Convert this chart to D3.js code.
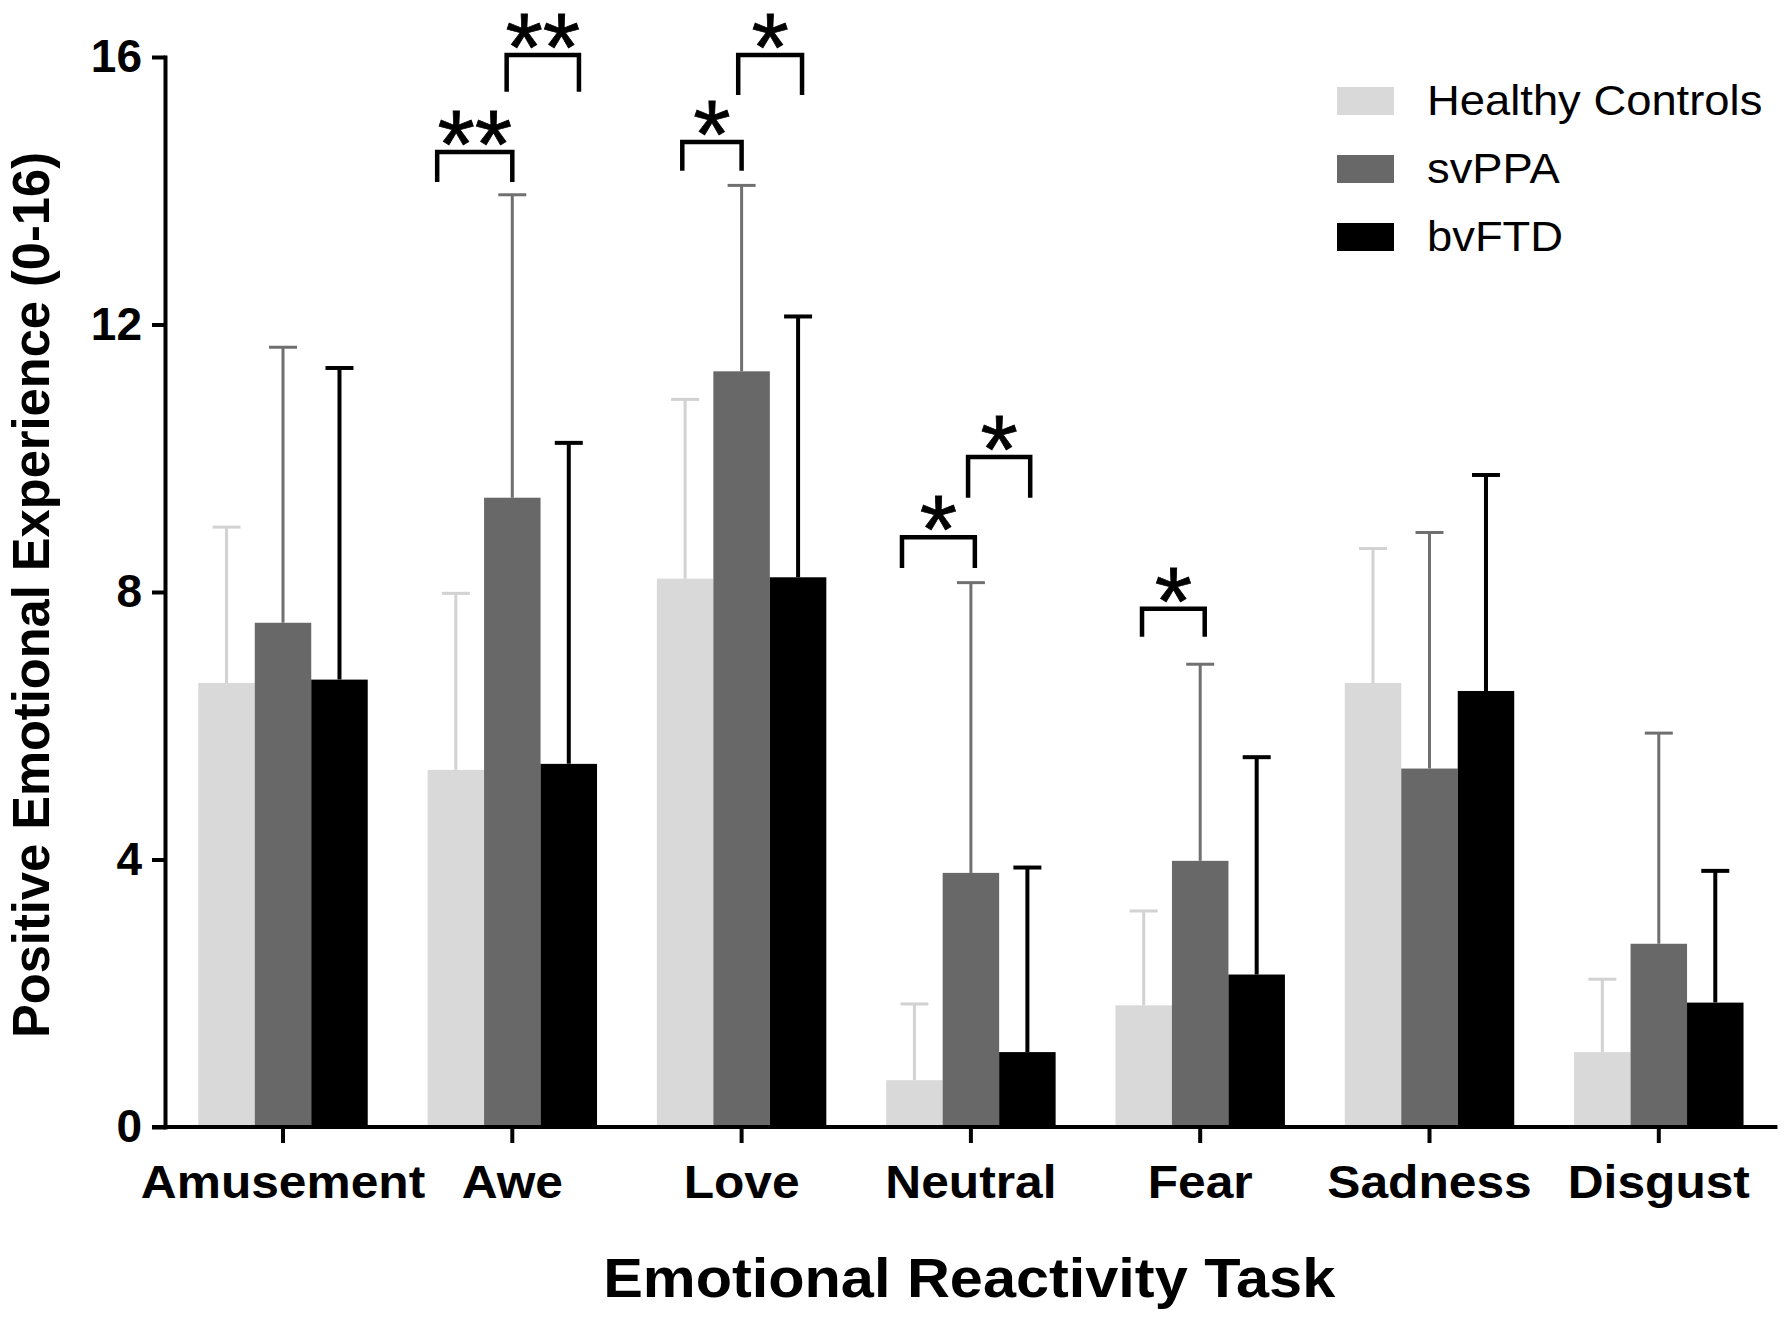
<!DOCTYPE html>
<html><head><meta charset="utf-8">
<script src="https://cdn.jsdelivr.net/npm/d3@7"></script>
<style>
body{margin:0;background:#fff}
svg{display:block}
text{font-family:"Liberation Sans",Arial,sans-serif}
</style>
</head><body>
<svg id="c" width="1787" height="1322"></svg>
<script>
// ---- data ----
const categories = ["Amusement","Awe","Love","Neutral","Fear","Sadness","Disgust"];
const seriesNames = ["Healthy Controls","svPPA","bvFTD"];
const hcMean  = [6.64, 5.34, 8.20, 0.70, 1.82, 6.64, 1.12];
const hcTop   = [8.97, 7.98, 10.88, 1.84, 3.23, 8.65, 2.21];
const svMean  = [7.54, 9.41, 11.30, 3.80, 3.98, 5.36, 2.74];
const svTop   = [11.66, 13.94, 14.08, 8.14, 6.92, 8.89, 5.89];
const bvMean  = [6.69, 5.43, 8.22, 1.12, 2.28, 6.52, 1.86];
const bvTop   = [11.35, 10.23, 12.12, 3.88, 5.53, 9.75, 3.83];
const yTicks  = [0, 4, 8, 12, 16];
// significance brackets (x ends in series-index units, levels in data units)
const sigCategory = ["Awe","Awe","Love","Love","Neutral","Neutral","Fear"];
const sigFrom     = [-0.33, 0.90, -0.05, 0.94, -0.22, 0.95, -0.03];
const sigTo       = [1.00, 2.18, 1.00, 2.07, 1.07, 2.05, 1.08];
const sigLevel    = [14.58, 16.03, 14.73, 16.03, 8.82, 10.02, 7.75];
const sigLegEnd   = [14.13, 15.48, 14.30, 15.43, 8.36, 9.41, 7.33];
const sigLabel    = ["**","**","*","*","*","*","*"];

const means = [hcMean, svMean, bvMean];
const tops = [hcTop, svTop, bvTop];
const fills = ["#d9d9d9", "#686868", "#000000"];
const errColors = ["#d2d2d2", "#707070", "#000000"];
const errWidths = [3, 3, 4];

const svg = d3.select("#c");

const x = d3.scaleBand().domain(categories).range([168.35, 1773.45])
  .paddingInner(0.261).paddingOuter(0.1305);
const xs = d3.scaleBand().domain([0,1,2]).range([0, x.bandwidth()]);
const y = d3.scaleLinear().domain([0,16]).range([1127, 57]);
const axisX = 165;

function stretch(sel, k){
  sel.each(function(){
    const w = this.getComputedTextLength();
    d3.select(this).attr("textLength", w*k).attr("lengthAdjust","spacingAndGlyphs");
  });
}

// bars
const rows = categories.map((c,i)=>({c, i}));
seriesNames.forEach((s, si)=>{
  svg.append("g").selectAll("rect").data(rows).join("rect")
    .attr("x", d=>x(d.c)+xs(si))
    .attr("width", xs.bandwidth())
    .attr("y", d=>y(means[si][d.i]))
    .attr("height", d=>y(0)-y(means[si][d.i]))
    .attr("fill", fills[si]);
});

// error bars (upper only)
seriesNames.forEach((s, si)=>{
  const g = svg.append("g").attr("stroke", errColors[si]).attr("stroke-width", errWidths[si]);
  const cx = d=>x(d.c)+xs(si)+xs.bandwidth()/2;
  g.selectAll("line.v").data(rows).join("line").attr("class","v")
    .attr("x1", cx).attr("x2", cx)
    .attr("y1", d=>y(means[si][d.i])).attr("y2", d=>y(tops[si][d.i]));
  g.selectAll("line.h").data(rows).join("line").attr("class","h")
    .attr("x1", d=>cx(d)-14).attr("x2", d=>cx(d)+14)
    .attr("y1", d=>y(tops[si][d.i])).attr("y2", d=>y(tops[si][d.i]));
});

// y axis
const gy = svg.append("g").attr("transform", `translate(${axisX},0)`)
  .call(d3.axisLeft(y).tickValues(yTicks).tickSize(13).tickSizeOuter(0).tickPadding(10).tickFormat(d3.format("d")));
gy.select(".domain").attr("stroke-width", 4).attr("stroke-linecap","square");
gy.selectAll(".tick line").attr("stroke-width", 4);
gy.selectAll(".tick text").attr("font-size", 46).attr("font-weight","bold").attr("fill","#000")
  .attr("font-family",'"Liberation Sans",Arial,sans-serif');

// x axis
const gx = svg.append("g").attr("transform", `translate(0,${y(0)})`)
  .call(d3.axisBottom(x).tickSize(16).tickSizeOuter(0).tickPadding(22));
gx.select(".domain").remove();
gx.selectAll(".tick line").attr("stroke-width", 4);
gx.selectAll(".tick text").attr("font-size", 46).attr("font-weight","bold").attr("fill","#000")
  .attr("font-family",'"Liberation Sans",Arial,sans-serif');
stretch(gx.selectAll(".tick text"), 1.08);
svg.append("line").attr("x1", axisX-13).attr("x2", x.range()[1]+4)
  .attr("y1", y(0)).attr("y2", y(0)).attr("stroke","#000").attr("stroke-width",4);

// significance brackets
const sig = sigCategory.map((c,i)=>({c, f:sigFrom[i], t:sigTo[i], lv:sigLevel[i], le:sigLegEnd[i], lab:sigLabel[i]}));
const bx = (c, f)=> x(c) + xs.bandwidth()*(f+0.5);
svg.append("g").selectAll("path").data(sig).join("path")
  .attr("d", d=>`M${bx(d.c,d.f)},${y(d.le)}V${y(d.lv)}H${bx(d.c,d.t)}V${y(d.le)}`)
  .attr("fill","none").attr("stroke","#000").attr("stroke-width",4.5);
svg.append("g").selectAll("text").data(sig).join("text")
  .attr("x", d=>(bx(d.c,d.f)+bx(d.c,d.t))/2)
  .attr("y", d=>y(d.lv)+25)
  .attr("text-anchor","middle").attr("font-size",96)
  .attr("stroke","#000").attr("stroke-width",0.8)
  .text(d=>d.lab);

// legend
const lg = svg.append("g");
seriesNames.forEach((s, si)=>{
  lg.append("rect").attr("x",1337).attr("y",87+si*68).attr("width",57).attr("height",28).attr("fill",fills[si]);
  lg.append("text").attr("x",1427).attr("y",115+si*68).attr("font-size",42).attr("fill","#000").text(s);
});
stretch(lg.selectAll("text"), 1.08);

// axis titles
svg.append("text").attr("x", (axisX+x.range()[1])/2).attr("y", 1297)
  .attr("text-anchor","middle").attr("font-size",56).attr("font-weight","bold")
  .attr("textLength",732).attr("lengthAdjust","spacingAndGlyphs")
  .text("Emotional Reactivity Task");
svg.append("text").attr("transform","translate(49,595) rotate(-90)")
  .attr("text-anchor","middle").attr("font-size",52).attr("font-weight","bold")
  .attr("textLength",886).attr("lengthAdjust","spacingAndGlyphs")
  .text("Positive Emotional Experience (0-16)");
</script>
</body></html>
